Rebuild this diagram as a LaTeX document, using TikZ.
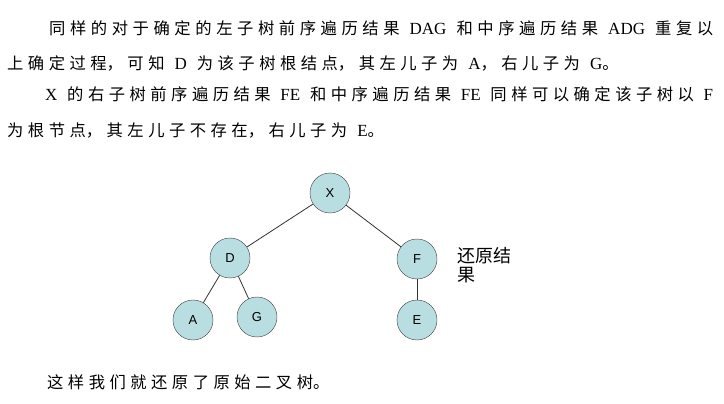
\documentclass[tikz,border=0pt]{standalone}
\usepackage{fontspec}
\setmainfont{Liberation Serif}
\newfontfamily\cjk{Noto Sans CJK SC}
\newfontfamily\arial{Liberation Sans}
\XeTeXlinebreaklocale "zh"
\XeTeXlinebreakskip=4.5pt plus 4pt
\newcommand\zh[1]{{\cjk\fontsize{16.3}{20}\selectfont #1}}
\newcommand\fullline[2]{\parbox[b]{#1}{\spaceskip=10pt plus 3pt minus 2pt\relax\parfillskip=0pt\relax #2}}
\newcommand\openline[1]{\parbox[b]{700pt}{\spaceskip=10pt plus 3pt minus 2pt\relax #1}}
\definecolor{treefill}{RGB}{185,222,226}
\begin{document}
\begin{tikzpicture}[x=1pt,y=-1pt,
  treenode/.style={circle,draw=black!75,fill=treefill,minimum size=40pt,inner sep=0pt,
    font=\arial\fontsize{13}{13}\selectfont},
  treeline/.style={draw=black!80,line width=0.8pt},
  textline/.style={anchor=base west,inner sep=0pt,font=\fontsize{17}{20}\selectfont}]
        \useasboundingbox (0,0) rectangle (724,404);

        \node[textline] (l1) at (49,35) {\fullline{664pt}{\zh{同样的对于确定的左子树前序遍历结果} DAG \zh{和中序遍历结果} ADG \zh{重复以}}};
        \node[textline] (l2) at (7,70) {\openline{\zh{上确定过程，可知} D \zh{为该子树根结点，其左儿子为} A\zh{，右儿子为} G\zh{。}}};
        \node[textline] (l3) at (45,101) {\fullline{668pt}{X \zh{的右子树前序遍历结果} FE \zh{和中序遍历结果} FE \zh{同样可以确定该子树以} F}};
        \node[textline] (l4) at (7,136) {\openline{\zh{为根节点，其左儿子不存在，右儿子为} E\zh{。}}};

        \node[treenode] (X) at (330,193) {X};
        \node[treenode] (D) at (230,258) {D};
        \node[treenode] (F) at (417,259) {F};
        \node[treenode] (A) at (193,320) {A};
        \node[treenode] (G) at (257,317) {G};
        \node[treenode] (E) at (417,320) {E};

        \draw[treeline] (X) -- (D);
        \draw[treeline] (X) -- (F);
        \draw[treeline] (D) -- (A);
        \draw[treeline] (D) -- (G);
        \draw[treeline] (F) -- (E);

        \node[anchor=north west,align=left,inner sep=0pt,font=\cjk\fontsize{18}{19}\selectfont] (res) at (457,247) {还原结\\果};

        \node[textline] (l5) at (47,388) {\openline{\zh{这样我们就还原了原始二叉树。}}};
      \end{tikzpicture}
\end{document}
